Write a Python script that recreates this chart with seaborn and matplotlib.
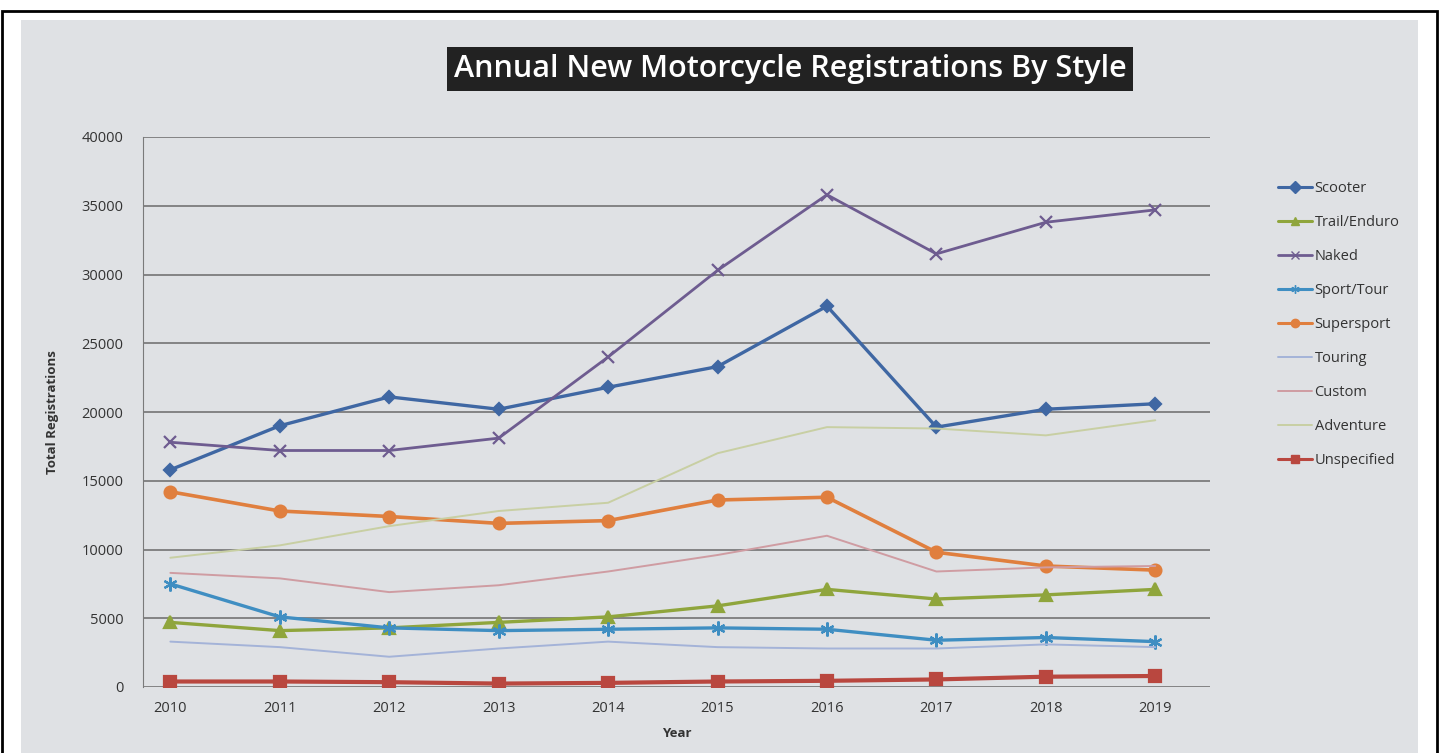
import pandas as pd
import matplotlib.pyplot as plt
import matplotlib.patches as mpatches
from matplotlib.lines import Line2D
import seaborn as sns

years = [2010, 2011, 2012, 2013, 2014, 2015, 2016, 2017, 2018, 2019]

scooter = [15800, 19000, 21100, 20200, 21800, 23300, 27700, 18900, 20200, 20600]
trail_enduro = [4700, 4100, 4300, 4700, 5100, 5900, 7100, 6400, 6700, 7100]
naked = [17800, 17200, 17200, 18100, 24000, 30300, 35800, 31500, 33800, 34700]
sport_tour = [7500, 5100, 4300, 4100, 4200, 4300, 4200, 3400, 3600, 3300]
supersport = [14200, 12800, 12400, 11900, 12100, 13600, 13800, 9800, 8800, 8500]
touring = [3300, 2900, 2200, 2800, 3300, 2900, 2800, 2800, 3100, 2900]
custom = [8300, 7900, 6900, 7400, 8400, 9600, 11000, 8400, 8700, 8800]
adventure = [9400, 10300, 11700, 12800, 13400, 17000, 18900, 18800, 18300, 19400]
unspecified = [400, 400, 350, 250, 300, 400, 450, 550, 750, 800]

styles = ["Scooter", "Trail/Enduro", "Naked", "Sport/Tour", "Supersport",
          "Touring", "Custom", "Adventure", "Unspecified"]
values = [scooter, trail_enduro, naked, sport_tour, supersport,
          touring, custom, adventure, unspecified]

colors = ["#3f67a3", "#8fa53c", "#6e5c90", "#3f8ec2", "#e07f3e",
          "#a4b3d8", "#cf9ca2", "#c8cfa3", "#b9473f"]
markers = ["D", "^", "x", (6, 2, 0), "o", None, None, None, "s"]
msizes = [6.5, 8, 9, 10, 8.5, 0, 0, 0, 8]
widths = [2.4, 2.4, 2.0, 2.4, 2.6, 1.4, 1.4, 1.4, 3.0]

rows = []
for name, vals in zip(styles, values):
    for yr, v in zip(years, vals):
        rows.append({"Year": yr, "Style": name, "Registrations": v})
df = pd.DataFrame(rows)

sns.set_style("white")
plt.rcParams["font.family"] = ["Open Sans", "DejaVu Sans"]

bg = "#dfe1e4"
fig = plt.figure(figsize=(14.41, 7.53), dpi=100, facecolor="white")

# photo background and frame
fig.patches.append(mpatches.Rectangle((21 / 1441, 0), (1418 - 21) / 1441, 1 - 20 / 753,
                                      transform=fig.transFigure, facecolor=bg,
                                      edgecolor="none", zorder=-2))
fig.patches.append(mpatches.Rectangle((2 / 1441, -0.01), (1437 - 2) / 1441, 1 - 11 / 753 + 0.01,
                                      transform=fig.transFigure, facecolor="none",
                                      edgecolor="black", linewidth=2, zorder=-1))

ax = fig.add_axes([143 / 1441, 1 - 687 / 753, (1210 - 143) / 1441, (687 - 137) / 753])
ax.set_facecolor("none")

for name, col, mk, ms, lw in zip(styles, colors, markers, msizes, widths):
    sub = df[df["Style"] == name]
    sns.lineplot(data=sub, x="Year", y="Registrations", ax=ax, color=col,
                 marker=mk, markersize=ms, markeredgecolor=col,
                 markeredgewidth=1.6, linewidth=lw, label=name, legend=False)

ax.set_xlim(2009.75, 2019.5)
ax.set_ylim(0, 40000)
ax.set_yticks(range(0, 40001, 5000))
ax.set_xticks(years)
ax.yaxis.grid(True, color="#6a6a6a", linewidth=1.1)
ax.xaxis.grid(False)
for side in ["top", "right", "bottom"]:
    ax.spines[side].set_visible(False)
ax.spines["left"].set_color("#7a7a7a")
ax.tick_params(axis="y", length=6, color="#7a7a7a", labelsize=10.5, labelcolor="#333333", pad=8)
ax.tick_params(axis="x", length=0, labelsize=10.5, labelcolor="#333333", pad=10)

ax.set_xlabel("Year", fontsize=9.5, fontweight="bold", color="#333333", labelpad=8)
ax.set_ylabel("Total Registrations", fontsize=9.5, fontweight="bold", color="#333333", labelpad=16)

fig.text(790 / 1441, 1 - 69 / 753, "Annual New Motorcycle Registrations By Style",
         ha="center", va="center", fontsize=22, fontweight="semibold", color="white",
         bbox=dict(facecolor="#222222", edgecolor="none", pad=5))

handles = [Line2D([0], [0], color=c, marker=m, markersize=6 if m is not None else 0,
                  markeredgecolor=c, linewidth=min(w, 2.2))
           for c, m, w in zip(colors, markers, widths)]
fig.legend(handles, styles, loc="upper left", bbox_to_anchor=(1265 / 1441, 1 - 168 / 753),
           frameon=False, fontsize=10.5, labelspacing=1.3, handlelength=2.3,
           handletextpad=0.2, labelcolor="#333333")

fig.savefig("out.png", dpi=100, facecolor="white")
